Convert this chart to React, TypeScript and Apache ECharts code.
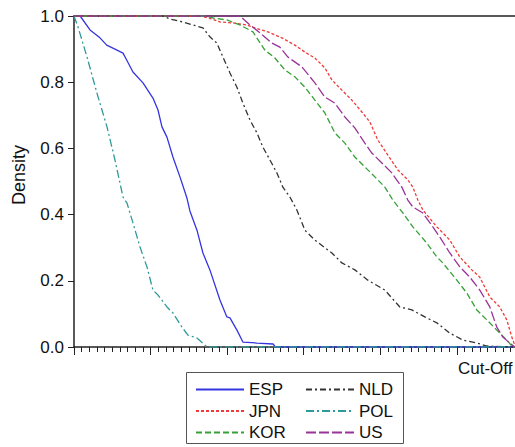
import React, { useEffect, useRef } from "react";
import * as echarts from "echarts";

const seriesNames = ["ESP", "NLD", "JPN", "POL", "KOR", "US"];
const legendCol1 = ["ESP", "JPN", "KOR"];
const legendCol2 = ["NLD", "POL", "US"];

const espData: number[][] = [
  [0, 1], [0.8, 1], [2.09, 0.958], [3.39, 0.934], [4.27, 0.912], [5.35, 0.9], [6.4, 0.888],
  [6.88, 0.867], [7.7, 0.831], [9.01, 0.798], [10.31, 0.752], [10.97, 0.716], [11.49, 0.665],
  [12.14, 0.634], [12.92, 0.574], [13.84, 0.514], [14.75, 0.45], [15.14, 0.411], [16.06, 0.353],
  [16.84, 0.284], [17.75, 0.233], [19.06, 0.142], [19.97, 0.091], [20.37, 0.088], [21.28, 0.051],
  [22.06, 0.015], [23.89, 0.012], [26.0, 0.009], [26.3, 0], [57.6, 0],
];

const polData: number[][] = [
  [0, 1], [0.52, 0.967], [1.7, 0.876], [3.0, 0.767], [4.31, 0.665], [5.35, 0.565], [6.4, 0.453],
  [6.92, 0.435], [7.7, 0.375], [8.62, 0.302], [9.53, 0.242], [10.31, 0.172], [10.97, 0.157],
  [12.14, 0.121], [12.92, 0.103], [14.1, 0.06], [14.88, 0.036], [16.06, 0.027], [17.36, 0], [57.6, 0],
];

const nldData: number[][] = [
  [0, 1], [11.62, 1], [12.53, 0.991], [14.23, 0.982], [15.54, 0.973], [16.84, 0.964], [17.75, 0.937],
  [18.67, 0.918], [19.45, 0.876], [20.37, 0.828], [21.28, 0.785], [22.06, 0.737], [22.98, 0.686],
  [23.89, 0.647], [24.67, 0.604], [25.59, 0.565], [26.5, 0.526], [27.28, 0.483], [28.2, 0.453],
  [29.11, 0.414], [30.16, 0.353], [31.46, 0.323], [33.68, 0.284], [34.99, 0.254], [36.68, 0.233],
  [38.38, 0.202], [40.6, 0.172], [42.56, 0.121], [44.13, 0.112], [45.82, 0.091], [47.39, 0.073],
  [49.09, 0.042], [50.78, 0.021], [52.6, 0.012], [53.9, 0.003], [57.2, 0], [57.6, 0],
];

const jpnData: number[][] = [
  [0, 1], [16.45, 1], [17.75, 0.993], [19.06, 0.982], [20.76, 0.979], [22.58, 0.973], [23.63, 0.964],
  [25.33, 0.952], [27.15, 0.934], [28.85, 0.912], [30.16, 0.891], [31.46, 0.873], [32.77, 0.843],
  [33.68, 0.807], [34.99, 0.776], [36.29, 0.746], [37.6, 0.71], [38.64, 0.68], [39.69, 0.625],
  [40.99, 0.58], [42.3, 0.535], [43.6, 0.505], [44.26, 0.483], [44.91, 0.444], [45.56, 0.414],
  [47.39, 0.363], [49.09, 0.323], [50.39, 0.272], [51.96, 0.233], [53.0, 0.211], [54.31, 0.151],
  [55.61, 0.121], [56.53, 0.082], [57.18, 0.03], [57.57, 0.006],
];

const usData: number[][] = [
  [0, 1], [21.67, 1], [22.98, 0.973], [24.28, 0.949], [25.85, 0.918], [26.89, 0.906], [27.94, 0.876],
  [29.77, 0.846], [31.46, 0.798], [32.77, 0.755], [34.07, 0.737], [35.38, 0.695], [36.68, 0.662],
  [37.99, 0.616], [38.9, 0.586], [40.21, 0.556], [41.51, 0.526], [42.82, 0.483], [43.6, 0.444],
  [44.26, 0.423], [45.56, 0.405], [46.87, 0.363], [47.78, 0.332], [49.09, 0.284], [50.39, 0.242],
  [51.7, 0.211], [53.0, 0.172], [54.31, 0.121], [55.22, 0.06], [56.01, 0.03], [56.92, 0.012], [57.57, 0],
];

const korData: number[][] = [
  [0, 1], [17.1, 1], [18.15, 0.994], [19.97, 0.988], [21.67, 0.973], [23.37, 0.952], [24.93, 0.897],
  [26.24, 0.873], [27.55, 0.837], [28.85, 0.816], [30.16, 0.785], [31.46, 0.746], [32.77, 0.707],
  [34.07, 0.647], [35.38, 0.616], [36.68, 0.574], [37.99, 0.544], [39.3, 0.514], [40.6, 0.483],
  [41.64, 0.444], [42.95, 0.405], [44.26, 0.363], [46.08, 0.314], [47.39, 0.272], [48.17, 0.254],
  [50.0, 0.202], [51.31, 0.163], [52.61, 0.112], [53.92, 0.082], [55.22, 0.051], [56.53, 0.021],
  [57.31, 0], [57.6, 0],
];

const yTicks = [0, 0.2, 0.4, 0.6, 0.8, 1.0];

const FONT = "Liberation Sans, Arial, Helvetica, sans-serif";

const seriesData: Record<string, number[][]> = {
  ESP: espData,
  NLD: nldData,
  JPN: jpnData,
  POL: polData,
  KOR: korData,
  US: usData,
};

const seriesStyle: Record<string, { color: string; type: any }> = {
  ESP: { color: "#3535e0", type: "solid" },
  NLD: { color: "#333333", type: [6, 3, 2, 3] },
  JPN: { color: "#f03a3a", type: [3, 2] },
  POL: { color: "#2f9a9a", type: [8, 3, 2, 3] },
  KOR: { color: "#35a035", type: [6, 3] },
  US: { color: "#993399", type: [10, 3] },
};

const legendBase = {
  orient: "vertical",
  top: 381,
  padding: 0,
  itemWidth: 48,
  itemHeight: 12,
  itemGap: 4.5,
  itemStyle: { color: "rgba(0,0,0,0)", borderWidth: 0, opacity: 0 },
  textStyle: { fontSize: 17, fontFamily: FONT, color: "#111" },
};

export default function App() {
  const ref = useRef<HTMLDivElement>(null);
  useEffect(() => {
    if (!ref.current) return;
    const chart = echarts.init(ref.current, undefined, { renderer: "svg" });
    const option: any = {
      animation: false,
      backgroundColor: "#ffffff",
      grid: { left: 74, right: 0, top: 16, bottom: 100 },
      xAxis: [
        {
          type: "value",
          min: 0,
          max: 57.6,
          interval: 10,
          axisLine: { show: true, onZero: false, lineStyle: { color: "#222", width: 1.5 } },
          axisTick: { show: true, length: 8, lineStyle: { color: "#222", width: 1 } },
          minorTick: { show: true, splitNumber: 10, length: 5, lineStyle: { color: "#222", width: 1 } },
          axisLabel: { show: false },
          splitLine: { show: false },
          minorSplitLine: { show: false },
        },
        {
          type: "value",
          position: "top",
          min: 0,
          max: 57.6,
          axisLine: { show: true, onZero: false, lineStyle: { color: "#222", width: 1.5 } },
          axisTick: { show: false },
          axisLabel: { show: false },
          splitLine: { show: false },
        },
      ],
      yAxis: {
        type: "value",
        min: 0,
        max: 1,
        interval: 0.2,
        axisLine: { show: true, onZero: false, lineStyle: { color: "#222", width: 1.5 } },
        axisTick: { show: true, length: 6, lineStyle: { color: "#222", width: 1 } },
        axisLabel: {
          margin: 10,
          fontSize: 17,
          fontFamily: FONT,
          color: "#111",
          formatter: (v: number) => (yTicks.some((t) => Math.abs(t - v) < 1e-6) ? v.toFixed(1) : ""),
        },
        splitLine: { show: false },
      },
      legend: [
        { ...legendBase, data: legendCol1, left: 195 },
        { ...legendBase, data: legendCol2, left: 305 },
      ],
      graphic: [
        {
          type: "rect",
          shape: { x: 186.5, y: 372.5, width: 217, height: 71 },
          style: { fill: "none", stroke: "#555", lineWidth: 1 },
          silent: true,
        },
        {
          type: "text",
          x: 458,
          y: 368,
          style: { text: "Cut-Off", fontSize: 17, fontFamily: FONT, fill: "#111", verticalAlign: "middle", align: "left" },
        },
        {
          type: "text",
          x: 18.5,
          y: 175,
          rotation: Math.PI / 2,
          style: { text: "Density", fontSize: 18, fontFamily: FONT, fill: "#111", verticalAlign: "middle", align: "center" },
        },
      ],
      series: seriesNames.map((name) => ({
        name,
        type: "line",
        data: seriesData[name],
        showSymbol: false,
        symbol: "none",
        color: seriesStyle[name].color,
        lineStyle: { color: seriesStyle[name].color, width: 1.3, type: seriesStyle[name].type },
      })),
    };
    chart.setOption(option);
    return () => chart.dispose();
  }, []);
  return (
    <div
      ref={ref}
      style={{ position: "fixed", left: 0, top: 0, width: 515, height: 447, background: "#fff" }}
    />
  );
}
